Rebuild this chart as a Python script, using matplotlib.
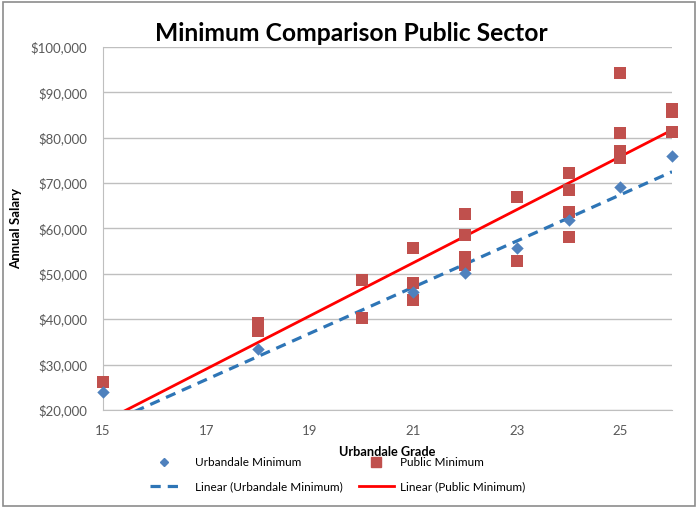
import matplotlib.pyplot as plt
from matplotlib.patches import Rectangle
from matplotlib.lines import Line2D
from matplotlib.ticker import FuncFormatter

plt.rcParams['font.family'] = ['Lato', 'DejaVu Sans']

# Urbandale minimum by grade
urb_grade = [15, 18, 21, 22, 23, 24, 25, 26]
urb_min = [24000, 33500, 46000, 50200, 55700, 61800, 69100, 76000]

# public sector minimums (several employers per grade)
pub_grade = [15, 18, 18, 20, 20, 21, 21, 21, 22, 22, 22, 22, 23, 23,
             24, 24, 24, 24, 25, 25, 25, 25, 26, 26, 26]
pub_min = [26200, 39100, 37400, 48700, 40300, 55700, 48000, 44300,
           63200, 58600, 53700, 52000, 67000, 52900,
           72200, 68500, 63700, 58200, 94300, 81100, 77000, 75500,
           86300, 85600, 81300]

# linear trend lines (value at grade 15 and 26)
trend_x = [15, 26]
urb_trend = [16550, 72500]
pub_trend = [17350, 81700]

fig = plt.figure(figsize=(6.98, 5.08), dpi=100)
ax = fig.add_axes([0.1476, 0.193, 0.8152, 0.7145])

ax.plot(trend_x, urb_trend, color='#2E75B6', lw=2.3, ls=(0, (3.2, 2.2)), zorder=3)
ax.plot(trend_x, pub_trend, color='#FF0000', lw=2.0, zorder=3)
ax.scatter(pub_grade, pub_min, marker='s', s=70, color='#C0504D', linewidths=0,
           zorder=4, clip_on=False)
ax.scatter(urb_grade, urb_min, marker='D', s=40, color='#4F81BD', linewidths=0,
           zorder=5, clip_on=False)

ax.set_xlim(15, 26)
ax.set_ylim(20000, 100000)
ax.set_xticks([15, 17, 19, 21, 23, 25])
ax.set_yticks(range(20000, 100001, 10000))
ax.yaxis.set_major_formatter(FuncFormatter(lambda v, p: '${:,.0f}'.format(v)))
ax.grid(axis='y', color='#BFBFBF', lw=1)
ax.set_axisbelow(True)
for s in ['top', 'right']:
    ax.spines[s].set_visible(False)
for s in ['left', 'bottom']:
    ax.spines[s].set_color('#BFBFBF')
ax.tick_params(length=0, labelsize=9.5, labelcolor='#595959', pad=11)
ax.tick_params(axis='y', pad=11.5)

ax.set_xlabel('Urbandale Grade', fontsize=9.2, fontweight='bold', labelpad=6)
ax.set_ylabel('Annual Salary', fontsize=9.5, fontweight='bold', labelpad=6)
fig.text(0.503, 0.935, 'Minimum Comparison Public Sector', ha='center', va='center',
         fontsize=17.7, fontweight='bold')

# legend as two columns
leg_kw = dict(loc='center left', frameon=False, fontsize=8.5, borderpad=0,
              borderaxespad=0, labelspacing=1.1)
leg1 = fig.legend(
    [Line2D([], [], marker='D', ls='none', color='#4F81BD', markersize=4.5),
     Line2D([], [], color='#2E75B6', lw=2.3, ls=(0, (3.2, 2.2)))],
    ['Urbandale Minimum', 'Linear (Urbandale Minimum)'],
    bbox_to_anchor=(0.215, 0.066), handlelength=2.4, handletextpad=1.4, **leg_kw)
leg2 = fig.legend(
    [Line2D([], [], marker='s', ls='none', color='#C0504D', markersize=6.5),
     Line2D([], [], color='#FF0000', lw=2.0)],
    ['Public Minimum', 'Linear (Public Minimum)'],
    bbox_to_anchor=(0.514, 0.066), handlelength=3.0, handletextpad=0.45, **leg_kw)

fig.patches.append(Rectangle((0.004, 0.004), 0.992, 0.992, transform=fig.transFigure,
                             fill=False, edgecolor='#8C8C8C', lw=1.2))

fig.savefig('out.png', dpi=100)
